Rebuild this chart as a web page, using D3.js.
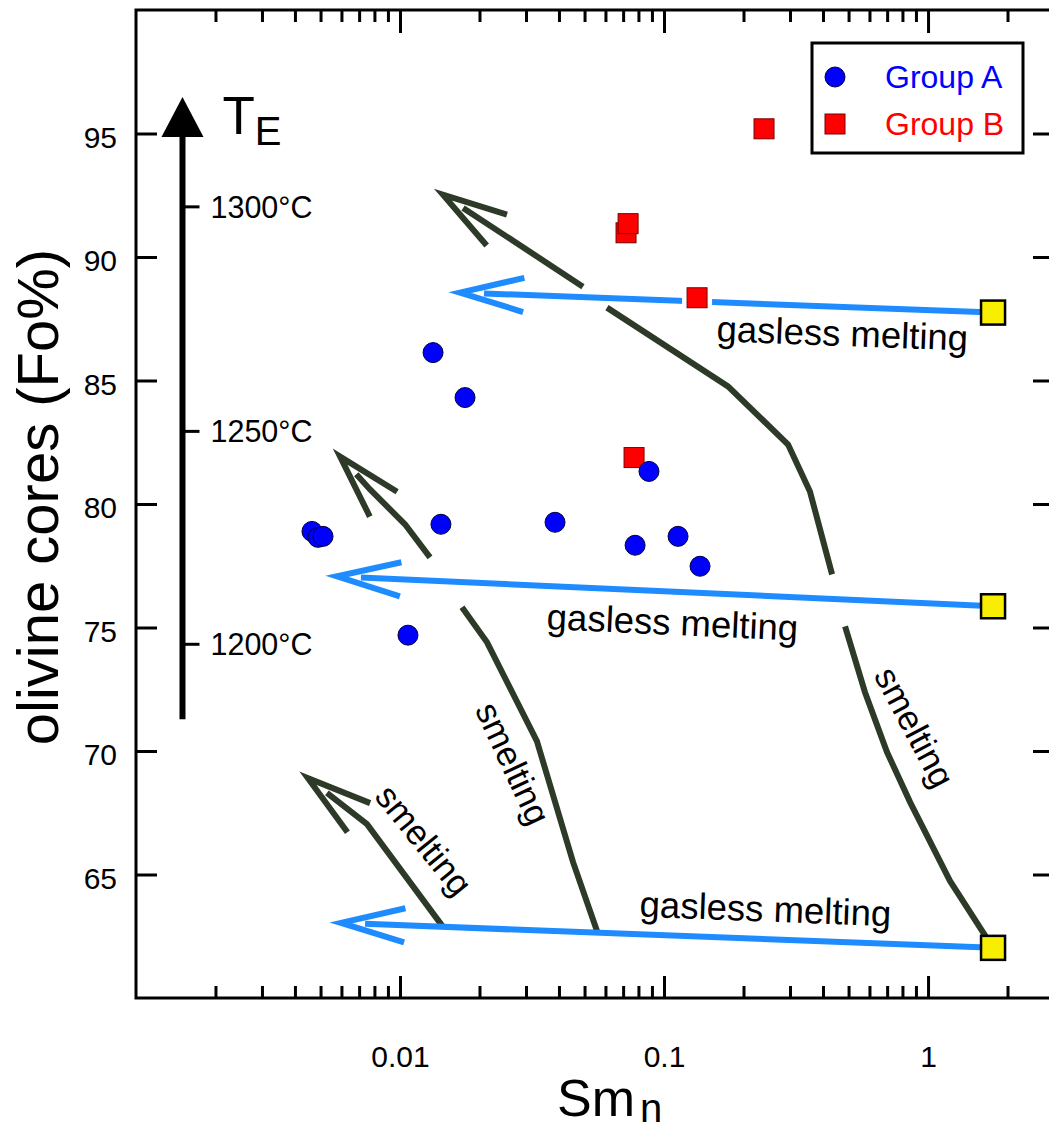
<!DOCTYPE html>
<html>
<head>
<meta charset="utf-8">
<script src="https://cdn.jsdelivr.net/npm/d3@7"></script>
<style>
  html, body { margin: 0; padding: 0; background: #ffffff; }
  svg { display: block; font-family: "Liberation Sans", Arial, Helvetica, sans-serif; }
</style>
</head>
<body>
<svg id="chart" width="1049" height="1133"></svg>
<script>
// ---- data: [Sm_n, Fo%] ----
const groupA = [
  [0.00464, 78.89], [0.00489, 78.65], [0.00511, 78.69],
  [0.01334, 86.13], [0.01763, 84.31], [0.01429, 79.18],
  [0.03865, 79.26], [0.01072, 74.69], [0.0877, 81.32],
  [0.0777, 78.33], [0.1130, 78.69], [0.1369, 77.48]
];
const groupB = [
  [0.0718, 90.98], [0.0731, 91.35], [0.1334, 88.35], [0.0770, 81.88], [0.2392, 95.19]
];
// starting compositions of the melting paths
const sources = [[1.763, 87.75], [1.763, 75.86], [1.763, 62.03]];
// gasless melting arrows end points
const gaslessTips = [[0.01688, 88.56], [0.00577, 77.07], [0.00598, 63.04]];
const gaslessLabelPos = [[0.472, 86.40], [0.1072, 74.70], [0.2413, 63.10]];

// smelting paths, split where they pass under the melting arrows;
// the last piece of each path carries the arrow head
const smeltingPaths = [
  [
    [[1.763, 62.03], [1.211, 64.74], [0.855, 67.93], [0.699, 69.96], [0.577, 72.38], [0.485, 75.05]],
    [[0.433, 77.15], [0.357, 80.51], [0.295, 82.41], [0.1747, 84.76], [0.0608, 87.95]],
    [[0.0493, 88.80], [0.01455, 92.52]]
  ],
  [
    [[0.0557, 62.72], [0.0452, 65.51], [0.0330, 70.40], [0.02136, 74.40], [0.01717, 75.82]],
    [[0.01299, 77.84], [0.01044, 79.18], [0.00770, 80.59], [0.00593, 81.92]]
  ],
  [
    [[0.01455, 62.88], [0.00750, 67.04], [0.00448, 68.90]]
  ]
];
// smelting labels: position and text angle
const smeltingLabelPos = [[0.890, 70.97], [0.02680, 69.50], [0.01233, 66.40]];
const smeltingLabelAngle = [62, 65, 51];

// temperature scale along the T_E arrow
const tempLabels = ["1300°C", "1250°C", "1200°C"];
const tempFo = [92.03, 82.94, 74.32];
const tArrowX = 0.0015;
const tArrowFo = [71.29, 96.48];

// axis ticks
const yTicks = [65, 70, 75, 80, 85, 90, 95];
const xMajorTicks = [0.01, 0.1, 1];
const xMinorTicks = [0.002, 0.003, 0.004, 0.005, 0.006, 0.007, 0.008, 0.009,
                     0.02, 0.03, 0.04, 0.05, 0.06, 0.07, 0.08, 0.09,
                     0.2, 0.3, 0.4, 0.5, 0.6, 0.7, 0.8, 0.9, 2];
const legendLabels = ["Group A", "Group B"];

// ---- drawing ----
const svg = d3.select("#chart");
const L = 136, R = 1054, T = 10, B = 998;
const x = d3.scaleLog().domain([0.001, 3]).range([L, R]);
const y = d3.scaleLinear().domain([60, 100]).range([B, T]);

const GREEN = "#2e3a28";
const BLUE = "#1e8cff";
const line = d3.line();

function styleAxis(g, fontSize) {
  g.select(".domain").remove();
  g.selectAll(".tick line").attr("stroke", "#000").attr("stroke-width", 3);
  g.selectAll(".tick text").attr("fill", "#000").attr("font-size", fontSize)
    .attr("font-family", "'Liberation Sans', Arial, sans-serif");
}

// bottom axis
svg.append("g").attr("transform", `translate(0,${B})`)
  .call(d3.axisBottom(x).tickValues(xMinorTicks).tickFormat("").tickSizeInner(-12).tickSizeOuter(0))
  .call(g => styleAxis(g, 30));
svg.append("g").attr("transform", `translate(0,${B})`)
  .call(d3.axisBottom(x).tickValues(xMajorTicks).tickFormat(d => String(d))
    .tickSizeInner(-22).tickSizeOuter(0).tickPadding(48))
  .call(g => styleAxis(g, 30));
// top axis
svg.append("g").attr("transform", `translate(0,${T})`)
  .call(d3.axisTop(x).tickValues(xMinorTicks).tickFormat("").tickSizeInner(-12).tickSizeOuter(0))
  .call(g => styleAxis(g, 30));
svg.append("g").attr("transform", `translate(0,${T})`)
  .call(d3.axisTop(x).tickValues(xMajorTicks).tickFormat("").tickSizeInner(-23).tickSizeOuter(0))
  .call(g => styleAxis(g, 30));
// left axis
svg.append("g").attr("transform", `translate(${L},0)`)
  .call(d3.axisLeft(y).tickValues(yTicks).tickFormat(d3.format("d"))
    .tickSizeInner(-21).tickSizeOuter(0).tickPadding(19))
  .call(g => styleAxis(g, 30))
  .call(g => g.selectAll(".tick text").attr("dy", "0.45em"));
// right axis
svg.append("g").attr("transform", `translate(${R},0)`)
  .call(d3.axisRight(y).tickValues(yTicks).tickFormat("").tickSizeInner(-21).tickSizeOuter(0))
  .call(g => styleAxis(g, 30));

// frame
svg.append("rect").attr("x", L).attr("y", T).attr("width", R - L).attr("height", B - T)
  .attr("fill", "none").attr("stroke", "#000").attr("stroke-width", 3);

// axis titles
const xt = svg.append("text").attr("x", 557).attr("y", 1116)
  .attr("font-size", 52).attr("fill", "#000").text("Sm");
xt.append("tspan").attr("font-size", 40).attr("dx", 5).attr("dy", 6).text("n");

svg.append("text")
  .attr("transform", "translate(58,497) rotate(-90)")
  .attr("text-anchor", "middle").attr("font-size", 58).attr("fill", "#000")
  .text("olivine cores (Fo%)");

// open arrow: shaft stops short of the tip, head drawn as a V
function openArrow(pts, headLen, halfAngle, gap) {
  const n = pts.length;
  const tip = pts[n - 1], prev = pts[n - 2];
  const dx = prev[0] - tip[0], dy = prev[1] - tip[1];
  const len = Math.hypot(dx, dy);
  const ux = dx / len, uy = dy / len;
  const shaft = pts.slice(0, n - 1).concat([[tip[0] + ux * gap, tip[1] + uy * gap]]);
  const rot = a => [tip[0] + headLen * (ux * Math.cos(a) - uy * Math.sin(a)),
                    tip[1] + headLen * (ux * Math.sin(a) + uy * Math.cos(a))];
  const a = halfAngle * Math.PI / 180;
  return { shaft, head: [rot(a), tip, rot(-a)] };
}
const toPx = d => [x(d[0]), y(d[1])];

// smelting paths
const gSmelt = svg.append("g").attr("fill", "none").attr("stroke", GREEN)
  .attr("stroke-width", 6).attr("stroke-linejoin", "miter");
smeltingPaths.forEach(path => {
  path.forEach((piece, i) => {
    const pts = piece.map(toPx);
    if (i === path.length - 1) {
      const a = openArrow(pts, 67, 16, 24);
      gSmelt.append("path").attr("d", line(a.shaft));
      gSmelt.append("path").attr("d", line(a.head));
    } else {
      gSmelt.append("path").attr("d", line(pts));
    }
  });
});

// gasless melting arrows
const gMelt = svg.append("g").attr("fill", "none").attr("stroke", BLUE)
  .attr("stroke-width", 6).attr("stroke-linejoin", "miter");
sources.forEach((s, i) => {
  const a = openArrow([toPx(s), toPx(gaslessTips[i])], 66, 15, 24);
  gMelt.append("path").attr("d", line(a.shaft));
  gMelt.append("path").attr("d", line(a.head));
});

// gasless melting labels, tilted with their arrows
sources.forEach((s, i) => {
  const p0 = toPx(gaslessTips[i]), p1 = toPx(s);
  const ang = Math.atan2(p1[1] - p0[1], p1[0] - p0[0]) * 180 / Math.PI;
  const p = toPx(gaslessLabelPos[i]);
  svg.append("text")
    .attr("transform", `translate(${p[0]},${p[1]}) rotate(${ang})`)
    .attr("text-anchor", "middle").attr("font-size", 36.5).attr("fill", "#000")
    .text("gasless melting");
});

// smelting labels
smeltingLabelPos.forEach((d, i) => {
  const p = toPx(d);
  svg.append("text")
    .attr("transform", `translate(${p[0]},${p[1]}) rotate(${smeltingLabelAngle[i]})`)
    .attr("text-anchor", "middle").attr("dy", "0.35em")
    .attr("font-size", 35).attr("fill", "#000")
    .text("smelting");
});

// T_E arrow with temperature scale
const tx = x(tArrowX);
const tipY = y(tArrowFo[1]);
svg.append("line").attr("x1", tx).attr("x2", tx)
  .attr("y1", y(tArrowFo[0])).attr("y2", tipY + 38)
  .attr("stroke", "#000").attr("stroke-width", 6);
svg.append("path")
  .attr("d", `M${tx},${tipY} L${tx - 21},${tipY + 40} L${tx + 21},${tipY + 40} Z`)
  .attr("fill", "#000");
const te = svg.append("text").attr("x", tx + 40).attr("y", y(95))
  .attr("font-size", 53).attr("fill", "#000").text("T");
te.append("tspan").attr("font-size", 40).attr("dy", 11).text("E");
tempLabels.forEach((t, i) => {
  const ty = y(tempFo[i]);
  svg.append("line").attr("x1", tx).attr("x2", tx + 17).attr("y1", ty).attr("y2", ty)
    .attr("stroke", "#000").attr("stroke-width", 3);
  svg.append("text").attr("x", tx + 28).attr("y", ty).attr("dy", "0.36em")
    .attr("font-size", 30.5).attr("fill", "#000").text(t);
});

// group B squares with a white halo
const SQ = 20;
svg.append("g").selectAll("rect").data(groupB).join("rect")
  .attr("x", d => x(d[0]) - SQ / 2 - 5).attr("y", d => y(d[1]) - SQ / 2 - 5)
  .attr("width", SQ + 10).attr("height", SQ + 10).attr("fill", "#fff");
svg.append("g").selectAll("rect").data(groupB).join("rect")
  .attr("x", d => x(d[0]) - SQ / 2).attr("y", d => y(d[1]) - SQ / 2)
  .attr("width", SQ).attr("height", SQ)
  .attr("fill", "#ff0000").attr("stroke", "#7a0000").attr("stroke-width", 1);

// group A circles
svg.append("g").selectAll("circle").data(groupA).join("circle")
  .attr("cx", d => x(d[0])).attr("cy", d => y(d[1])).attr("r", 10)
  .attr("fill", "#0000ff").attr("stroke", "#000040").attr("stroke-width", 1);

// starting compositions
const YS = 24;
svg.append("g").selectAll("rect").data(sources).join("rect")
  .attr("x", d => x(d[0]) - YS / 2).attr("y", d => y(d[1]) - YS / 2)
  .attr("width", YS).attr("height", YS)
  .attr("fill", "#f7ee00").attr("stroke", "#000").attr("stroke-width", 2.5);

// legend
const lg = svg.append("g");
lg.append("rect").attr("x", 812).attr("y", 43).attr("width", 211).attr("height", 110)
  .attr("fill", "#fff").attr("stroke", "#000").attr("stroke-width", 3);
lg.append("circle").attr("cx", 835).attr("cy", 77).attr("r", 10)
  .attr("fill", "#0000ff").attr("stroke", "#000040").attr("stroke-width", 1);
lg.append("rect").attr("x", 825).attr("y", 114).attr("width", 20).attr("height", 20)
  .attr("fill", "#ff0000").attr("stroke", "#7a0000").attr("stroke-width", 1);
lg.append("text").attr("x", 885).attr("y", 88).attr("font-size", 32)
  .attr("fill", "#0000ff").text(legendLabels[0]);
lg.append("text").attr("x", 885).attr("y", 135).attr("font-size", 32)
  .attr("fill", "#ff0000").text(legendLabels[1]);
</script>
</body>
</html>
